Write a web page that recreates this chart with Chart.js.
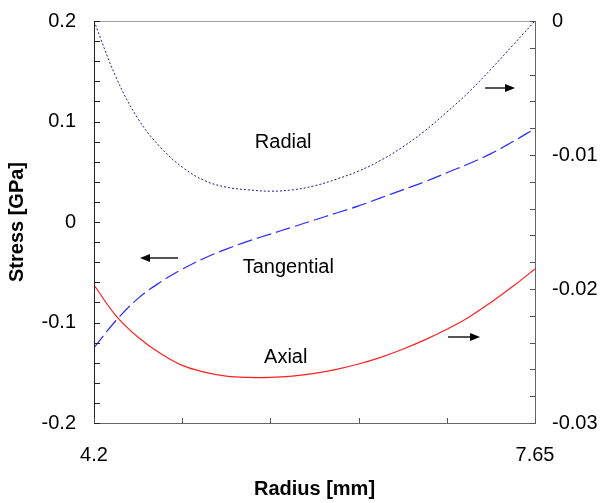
<!DOCTYPE html>
<html>
<head>
<meta charset="utf-8">
<script src="https://cdn.jsdelivr.net/npm/chart.js@4/dist/chart.umd.min.js"></script>
<style>
  body { margin: 0; background: #fff; }
</style>
</head>
<body>
<canvas id="chart" width="602" height="503"></canvas>
<script>
// radius [mm] where the curves were read
const radius = [4.2, 4.3725, 4.545, 4.7175, 4.89, 5.0625, 5.235, 5.4075, 5.58, 5.7525, 5.925,
  6.0975, 6.27, 6.4425, 6.615, 6.7875, 6.96, 7.1325, 7.305, 7.4775, 7.65];

// right axis
const radial = [0, -0.0042, -0.0073, -0.0094, -0.0109, -0.0119, -0.0124, -0.0126, -0.0127, -0.0126, -0.0123,
  -0.0118, -0.0112, -0.0104, -0.0094, -0.0082, -0.0068, -0.0053, -0.0036, -0.0018, 0];
// left axis
const tangential = [-0.125, -0.098, -0.076, -0.060, -0.047, -0.036, -0.027, -0.019, -0.012, -0.005, 0.002,
  0.009, 0.016, 0.024, 0.032, 0.040, 0.049, 0.058, 0.068, 0.080, 0.093];
// right axis
const axial = [-0.0197, -0.0220, -0.0236, -0.0248, -0.0257, -0.0262, -0.0265, -0.0266, -0.0266, -0.0265, -0.0263,
  -0.0260, -0.0256, -0.0251, -0.0245, -0.0238, -0.0230, -0.0221, -0.0210, -0.0198, -0.0185];

const xTicks = [4.2, 4.89, 5.58, 6.27, 6.96, 7.65];
const xLabels = [4.2, 7.65];
const leftTicks = [];
for (let i = 0; i <= 20; i++) leftTicks.push(-0.2 + i * 0.02);
const leftLabels = [-0.2, -0.1, 0, 0.1, 0.2];
const rightTicks = [];
for (let i = 0; i <= 15; i++) rightTicks.push(-0.03 + i * 0.002);
const rightLabels = [-0.03, -0.02, -0.01, 0];

// text notes and arrows, in data units (x, left-axis y)
const notes = [
  { text: "Radial", x: 5.68, y: 0.079 },
  { text: "Tangential", x: 5.72, y: -0.045 },
  { text: "Axial", x: 5.70, y: -0.135 },
];
const arrows = [
  { x0: 4.857, x1: 4.56, y: -0.036 },
  { x0: 7.26, x1: 7.494, y: 0.133 },
  { x0: 6.97, x1: 7.22, y: -0.114 },
];

const pts = (ys) => radius.map((x, i) => ({ x: x, y: ys[i] }));
const hasLabel = (list, v) => list.some((l) => Math.abs(l - v) < 1e-9);
const fmt = (v) => (Math.abs(v) < 1e-9 ? "0" : String(+v.toFixed(3)));

const font = "Liberation Sans, Arial, sans-serif";

const framePlugin = {
  id: "frame",
  afterDraw(chart) {
    const ctx = chart.ctx;
    const a = chart.chartArea;
    const sx = chart.scales.x, sy = chart.scales.y, sy1 = chart.scales.y1;
    ctx.save();
    ctx.lineWidth = 1;
    // frame
    ctx.strokeStyle = "#a0a0a0";
    ctx.beginPath(); ctx.moveTo(a.left, a.top + 0.5); ctx.lineTo(a.right, a.top + 0.5); ctx.stroke();
    ctx.strokeStyle = "#666";
    ctx.beginPath(); ctx.moveTo(a.left, a.bottom + 0.5); ctx.lineTo(a.right + 1, a.bottom + 0.5); ctx.stroke();
    ctx.beginPath(); ctx.moveTo(a.right + 0.5, a.top); ctx.lineTo(a.right + 0.5, a.bottom); ctx.stroke();
    ctx.strokeStyle = "#222";
    ctx.beginPath(); ctx.moveTo(a.left + 0.5, a.top); ctx.lineTo(a.left + 0.5, a.bottom + 1); ctx.stroke();
    // inward ticks
    sy.ticks.forEach((t) => {
      const p = Math.round(sy.getPixelForValue(t.value)) + 0.5;
      ctx.beginPath(); ctx.moveTo(a.left, p); ctx.lineTo(a.left + 6, p); ctx.stroke();
    });
    ctx.strokeStyle = "#555";
    sy1.ticks.forEach((t) => {
      const p = Math.round(sy1.getPixelForValue(t.value)) + 0.5;
      ctx.beginPath(); ctx.moveTo(a.right - 5, p); ctx.lineTo(a.right, p); ctx.stroke();
    });
    sx.ticks.forEach((t) => {
      const p = Math.round(sx.getPixelForValue(t.value)) + 0.5;
      ctx.beginPath(); ctx.moveTo(p, a.bottom - 5); ctx.lineTo(p, a.bottom); ctx.stroke();
    });
    // notes
    ctx.fillStyle = "#000";
    ctx.font = "20px " + font;
    ctx.textAlign = "center";
    ctx.textBaseline = "middle";
    notes.forEach((n) => ctx.fillText(n.text, sx.getPixelForValue(n.x), sy.getPixelForValue(n.y)));
    // arrows
    arrows.forEach((ar) => {
      const x0 = sx.getPixelForValue(ar.x0), x1 = sx.getPixelForValue(ar.x1);
      const y = Math.round(sy.getPixelForValue(ar.y));
      const dir = x1 > x0 ? 1 : -1;
      ctx.strokeStyle = "#555";
      ctx.lineWidth = 2;
      ctx.beginPath(); ctx.moveTo(x0, y); ctx.lineTo(x1 - dir * 8, y); ctx.stroke();
      ctx.fillStyle = "#000";
      ctx.beginPath();
      ctx.moveTo(x1, y);
      ctx.lineTo(x1 - dir * 10, y - 4);
      ctx.lineTo(x1 - dir * 10, y + 4);
      ctx.closePath();
      ctx.fill();
    });
    ctx.restore();
  },
};

new Chart(document.getElementById("chart"), {
  type: "line",
  data: {
    datasets: [
      {
        label: "Radial",
        data: pts(radial),
        yAxisID: "y1",
        borderColor: "#1c1c8c",
        borderWidth: 1,
        borderDash: [2, 2],
        pointRadius: 0,
        tension: 0.4,
      },
      {
        label: "Tangential",
        data: pts(tangential),
        yAxisID: "y",
        borderColor: "#2a2aff",
        borderWidth: 1.2,
        borderDash: [15, 5],
        pointRadius: 0,
        tension: 0.4,
      },
      {
        label: "Axial",
        data: pts(axial),
        yAxisID: "y1",
        borderColor: "#ff2020",
        borderWidth: 1.2,
        pointRadius: 0,
        tension: 0.4,
      },
    ],
  },
  options: {
    responsive: false,
    animation: false,
    events: [],
    layout: { padding: { top: 21, left: 0, right: 0, bottom: 0 } },
    plugins: { legend: { display: false }, tooltip: { enabled: false } },
    scales: {
      x: {
        type: "linear",
        min: 4.2,
        max: 7.65,
        grid: { display: false, drawTicks: false },
        border: { display: false },
        afterBuildTicks: (s) => { s.ticks = xTicks.map((v) => ({ value: v })); },
        afterFit: (s) => { s.height = 80; s.paddingLeft = 0; s.paddingRight = 0; },
        ticks: {
          autoSkip: false,
          maxRotation: 0,
          padding: 20,
          color: "#000",
          font: { family: font, size: 20 },
          callback: (v) => (hasLabel(xLabels, v) ? fmt(v) : ""),
        },
        title: {
          display: true,
          text: "Radius [mm]",
          color: "#000",
          font: { family: font, size: 20, weight: "bold" },
          padding: { top: 0, bottom: 2 },
        },
      },
      y: {
        position: "left",
        min: -0.2,
        max: 0.2,
        grid: { display: false, drawTicks: false },
        border: { display: false },
        afterBuildTicks: (s) => { s.ticks = leftTicks.map((v) => ({ value: v })); },
        afterFit: (s) => { s.width = 94; s.paddingTop = 0; s.paddingBottom = 0; },
        ticks: {
          autoSkip: false,
          padding: 18,
          color: "#000",
          font: { family: font, size: 20 },
          callback: (v) => (hasLabel(leftLabels, v) ? fmt(v) : ""),
        },
        title: {
          display: true,
          text: "Stress [GPa]",
          color: "#000",
          font: { family: font, size: 20, weight: "bold" },
          padding: { top: 5, bottom: 0 },
        },
      },
      y1: {
        position: "right",
        min: -0.03,
        max: 0,
        grid: { display: false, drawTicks: false },
        border: { display: false },
        afterBuildTicks: (s) => { s.ticks = rightTicks.map((v) => ({ value: v })); },
        afterFit: (s) => { s.width = 67; s.paddingTop = 0; s.paddingBottom = 0; },
        ticks: {
          autoSkip: false,
          padding: 17,
          color: "#000",
          font: { family: font, size: 20 },
          callback: (v) => (hasLabel(rightLabels, v) ? fmt(v) : ""),
        },
      },
    },
  },
  plugins: [framePlugin],
});
</script>
</body>
</html>
